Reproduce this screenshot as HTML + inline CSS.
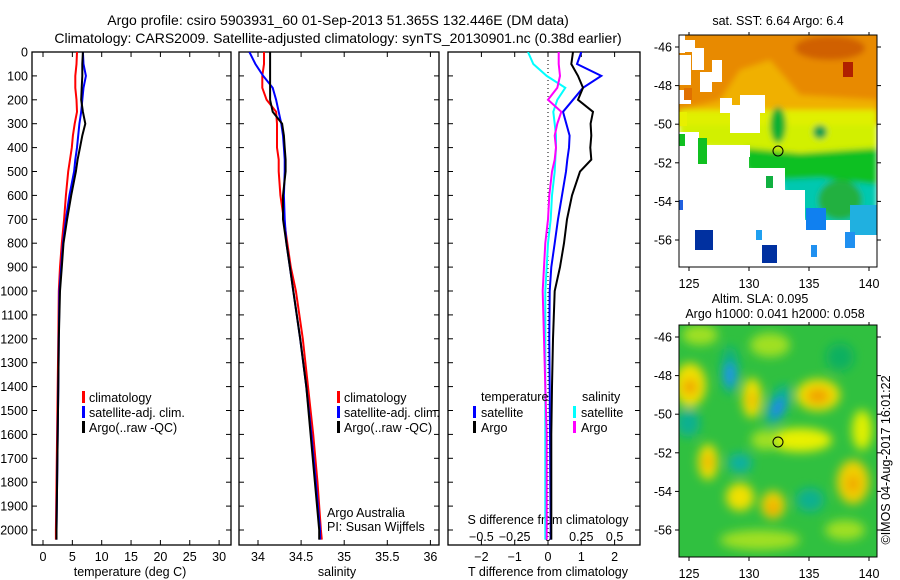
<!DOCTYPE html>
<html><head><meta charset="utf-8"><style>
body{margin:0;background:#fff;}
svg{display:block;font-family:"Liberation Sans",sans-serif;}
text{font-size:12.5px;fill:#000;}
</style></head><body>
<svg id="fig" width="900" height="580" viewBox="0 0 900 580">
<defs>
<clipPath id="c1"><rect x="32" y="52" width="199" height="493"/></clipPath>
<clipPath id="c2"><rect x="239" y="52" width="200" height="493"/></clipPath>
<clipPath id="c3"><rect x="448" y="52" width="192" height="493"/></clipPath>
<clipPath id="cm1"><rect x="679" y="35" width="198" height="232"/></clipPath>
<clipPath id="cm2"><rect x="679" y="325" width="198" height="232"/></clipPath>
<filter id="bl" x="-50%" y="-50%" width="200%" height="200%"><feGaussianBlur stdDeviation="5"/></filter>
<filter id="bl2" x="-50%" y="-50%" width="200%" height="200%"><feGaussianBlur stdDeviation="3"/></filter>
</defs>
<text x="338" y="25" text-anchor="middle" style="font-size:14px">Argo profile: csiro 5903931_60 01-Sep-2013 51.365S 132.446E (DM data)</text>
<text x="338" y="43" text-anchor="middle" style="font-size:14px">Climatology: CARS2009. Satellite-adjusted climatology: synTS_20130901.nc (0.38d earlier)</text>

<g id="p1"></g>
<g id="p2"></g>
<g id="p3"></g>

<!-- SST map -->
<g>
<g clip-path="url(#cm1)">
<rect x="679" y="35" width="198" height="232" fill="#fff"/>
<g filter="url(#bl2)">
<rect x="670" y="25" width="220" height="100" fill="#e88a00"/>
<polygon points="740,70 770,60 800,95 877,100 877,130 679,130 679,110 720,100" fill="#f0b000"/>
<polygon points="679,110 877,110 877,150 800,158 760,150 679,145" fill="#e0f000"/>
<polygon points="679,125 877,125 877,150 679,150" fill="#c8f000" opacity="0.6"/>
<polygon points="745,148 800,153 877,148 877,190 820,182 780,182 745,170" fill="#10c020"/>
<polygon points="780,180 820,178 877,185 877,240 830,232 800,220 785,200" fill="#00c8b0"/>
<ellipse cx="840" cy="200" rx="22" ry="20" fill="#20b040"/>
<ellipse cx="778" cy="125" rx="8" ry="18" fill="#10b030"/>
<ellipse cx="820" cy="132" rx="7" ry="7" fill="#10a050"/>
<ellipse cx="830" cy="48" rx="35" ry="12" fill="#d06000"/>
</g>
<rect x="843" y="62" width="10" height="15" fill="#b02000"/>
<!-- white gaps -->
<rect x="679" y="35" width="6" height="18" fill="#fff"/>
<rect x="685" y="40" width="10" height="12" fill="#fff"/>
<rect x="692" y="48" width="12" height="22" fill="#fff"/>
<rect x="679" y="55" width="12" height="30" fill="#fff"/>
<rect x="679" y="90" width="12" height="14" fill="#fff"/>
<rect x="700" y="72" width="12" height="20" fill="#fff"/>
<rect x="712" y="60" width="10" height="22" fill="#fff"/>
<rect x="720" y="98" width="12" height="15" fill="#fff"/>
<rect x="730" y="105" width="30" height="28" fill="#fff"/>
<rect x="740" y="95" width="25" height="18" fill="#fff"/>
<rect x="679" y="155" width="70" height="112" fill="#fff"/>
<rect x="679" y="132" width="20" height="23" fill="#fff"/>
<rect x="705" y="145" width="45" height="12" fill="#fff"/>
<rect x="749" y="168" width="36" height="99" fill="#fff"/>
<rect x="785" y="190" width="20" height="77" fill="#fff"/>
<rect x="805" y="220" width="72" height="47" fill="#fff"/>
<rect x="679" y="112" width="8" height="14" fill="#e8f000"/>
<rect x="698" y="138" width="9" height="26" fill="#10c020"/>
<rect x="679" y="134" width="6" height="12" fill="#10c020"/>
<rect x="766" y="176" width="7" height="12" fill="#10b040"/>
<rect x="684" y="88" width="8" height="12" fill="#e07000"/>
<rect x="695" y="230" width="18" height="20" fill="#0030a0"/>
<rect x="762" y="245" width="15" height="18" fill="#0030a0"/>
<rect x="756" y="230" width="6" height="10" fill="#20a0f0"/>
<rect x="811" y="245" width="6" height="12" fill="#2090f0"/>
<rect x="806" y="208" width="20" height="22" fill="#1080f0"/>
<rect x="850" y="205" width="27" height="30" fill="#20b0e0"/>
<rect x="845" y="232" width="10" height="16" fill="#2090f0"/>
<rect x="679" y="200" width="4" height="10" fill="#2060e0"/>
</g>
<rect x="679" y="35" width="198" height="232" fill="none" stroke="#000"/>
<circle cx="778" cy="151" r="5" fill="none" stroke="#000"/>
</g>
<text x="778" y="25" text-anchor="middle">sat. SST: 6.64 Argo: 6.4</text>

<!-- SLA map -->
<g>
<g clip-path="url(#cm2)">
<rect x="679" y="325" width="198" height="232" fill="#30c040"/>
<g filter="url(#bl)">
<ellipse cx="700" cy="335" rx="18" ry="10" fill="#a0e020"/>
<ellipse cx="770" cy="345" rx="20" ry="12" fill="#a0e020"/>
<ellipse cx="690" cy="385" rx="16" ry="22" fill="#f0e000"/>
<ellipse cx="690" cy="387" rx="7" ry="8" fill="#f0a000"/>
<ellipse cx="752" cy="398" rx="10" ry="20" fill="#f0e000"/>
<ellipse cx="752" cy="400" rx="4" ry="8" fill="#f0b000"/>
<ellipse cx="818" cy="395" rx="22" ry="16" fill="#f0e000"/>
<ellipse cx="818" cy="396" rx="12" ry="8" fill="#f0a000"/>
<ellipse cx="800" cy="440" rx="32" ry="12" fill="#e8f000"/>
<ellipse cx="765" cy="440" rx="14" ry="10" fill="#a0e020"/>
<ellipse cx="708" cy="462" rx="10" ry="18" fill="#f0e000"/>
<ellipse cx="708" cy="462" rx="5" ry="8" fill="#f0b000"/>
<ellipse cx="740" cy="497" rx="14" ry="14" fill="#f0e000"/>
<ellipse cx="773" cy="505" rx="12" ry="14" fill="#f0d000"/>
<ellipse cx="773" cy="508" rx="5" ry="7" fill="#f0a000"/>
<ellipse cx="853" cy="482" rx="16" ry="22" fill="#f0d000"/>
<ellipse cx="853" cy="484" rx="6" ry="8" fill="#f0a000"/>
<ellipse cx="730" cy="370" rx="9" ry="24" fill="#10b080"/>
<ellipse cx="730" cy="375" rx="5" ry="12" fill="#2090f0"/>
<ellipse cx="778" cy="405" rx="10" ry="22" fill="#10b090" transform="rotate(25 778 405)"/>
<ellipse cx="778" cy="408" rx="5" ry="11" fill="#2080f0" transform="rotate(25 778 408)"/>
<ellipse cx="740" cy="463" rx="12" ry="10" fill="#10b0a0"/>
<ellipse cx="688" cy="423" rx="12" ry="14" fill="#10b090"/>
<ellipse cx="810" cy="500" rx="14" ry="12" fill="#10b090"/>
<ellipse cx="840" cy="357" rx="14" ry="14" fill="#10b060"/>
<ellipse cx="760" cy="540" rx="40" ry="10" fill="#a0e020"/>
<ellipse cx="862" cy="430" rx="10" ry="20" fill="#e0f000"/>
<ellipse cx="845" cy="530" rx="20" ry="10" fill="#a0e020"/>
</g>
</g>
<rect x="679" y="325" width="198" height="232" fill="none" stroke="#000"/>
<circle cx="778" cy="442" r="5" fill="none" stroke="#000"/>
</g>
<text x="760" y="303" text-anchor="middle">Altim. SLA: 0.095</text>
<text x="775" y="318" text-anchor="middle">Argo h1000: 0.041 h2000: 0.058</text>
<text transform="translate(890 460) rotate(-90)" text-anchor="middle">©IMOS 04-Aug-2017 16:01:22</text>
<g id="maxes"></g>
</svg>
<script>
// ---- data ----
const depths = [0,50,100,150,200,250,300,350,400,450,500,600,700,800,900,1000,1200,1400,1600,1800,2000,2040];
const tempClim = [5.8,5.7,5.5,5.5,5.7,5.8,5.4,5.1,4.9,4.6,4.3,3.9,3.6,3.2,2.9,2.7,2.6,2.5,2.4,2.3,2.2,2.2];
const tempSat  = [6.8,6.9,7.3,6.9,6.7,6.5,6.2,6.0,5.8,5.5,5.3,4.5,3.9,3.4,3.1,2.8,2.7,2.6,2.5,2.4,2.3,2.3];
const tempArgo = [6.8,6.7,6.7,6.6,6.5,6.8,7.2,6.7,6.3,5.9,5.6,4.8,4.1,3.5,3.2,2.9,2.7,2.6,2.5,2.4,2.3,2.3];
const salClim = [34.07,34.07,34.05,34.05,34.10,34.21,34.22,34.22,34.22,34.24,34.24,34.26,34.30,34.34,34.38,34.44,34.52,34.58,34.64,34.69,34.73,34.74];
const salSat  = [33.90,33.97,34.06,34.17,34.21,34.24,34.27,34.29,34.30,34.31,34.31,34.30,34.31,34.33,34.37,34.41,34.49,34.56,34.62,34.67,34.72,34.72];
const salArgo = [34.14,34.14,34.14,34.14,34.14,34.17,34.28,34.30,34.31,34.32,34.32,34.29,34.29,34.33,34.37,34.41,34.49,34.56,34.61,34.66,34.71,34.71];
const dTSat  = [1.0,0.87,1.6,1.05,0.75,0.45,0.55,0.65,0.63,0.58,0.54,0.42,0.3,0.2,0.1,0.05,0.04,0.05,0.06,0.07,0.08,0.08];
const dTArgo = [0.75,0.7,0.9,1.05,0.9,1.35,1.28,1.3,1.27,1.3,0.96,0.72,0.57,0.48,0.36,0.2,0.15,0.12,0.1,0.1,0.1,0.1];
const dSSat  = [-0.15,-0.11,-0.01,0.13,0.07,0.04,0.05,0.06,0.06,0.055,0.05,0.03,0.02,0,-0.01,-0.02,-0.02,-0.02,-0.02,-0.02,-0.02,-0.02];
const dSArgo = [0.08,0.08,0.09,0.07,0.0,0.1,0.07,0.05,0.06,0.05,0.03,0.01,0.0,-0.02,-0.03,-0.04,-0.03,-0.02,-0.01,-0.01,-0.01,-0.01];
const depthTicks = [0,100,200,300,400,500,600,700,800,900,1000,1100,1200,1300,1400,1500,1600,1700,1800,1900,2000];
const tempTicks = [0,5,10,15,20,25,30];
const salTicks = [34,34.5,35,35.5,36];
const dTTicks = [-2,-1,0,1,2];
const dSTicks = [-0.5,-0.25,0,0.25,0.5];
const lonTicks = [125,130,135,140];
const latTicks = [-46,-48,-50,-52,-54,-56];

const NS='http://www.w3.org/2000/svg';
function mk(tag, attrs, parent, txt){const e=document.createElementNS(NS,tag);for(const k in attrs)e.setAttribute(k,attrs[k]);if(txt!==undefined)e.textContent=txt;parent.appendChild(e);return e;}
const yD = d => 52 + d*0.239;
const xT = v => 43 + v*5.87;
const xS = v => 258 + (v-34)*86.2;
const xDT = v => 548 + v*33.3;
const xDS = v => 548 + v*133.2;

function panel(g, x0, x1){
  const r=mk('rect',{x:x0,y:52,width:x1-x0,height:493,fill:'none',stroke:'#000','stroke-width':1.3},g);
  
  
  depthTicks.forEach(d=>{
    mk('line',{x1:x0,x2:x0+5,y1:yD(d),y2:yD(d),stroke:'#000'},g);
    mk('line',{x1:x1,x2:x1-5,y1:yD(d),y2:yD(d),stroke:'#000'},g);
  });
}
function xticks(g, ticks, fx, labY, top, bot){
  ticks.forEach(t=>{
    const x=fx(t);
    if(top) mk('line',{x1:x,x2:x,y1:52,y2:57,stroke:'#000'},g);
    if(bot) mk('line',{x1:x,x2:x,y1:545,y2:540,stroke:'#000'},g);
    const l=mk('text',{x:x,y:labY,'text-anchor':'middle'},g,String(t).replace('-','\u2212'));
    
    
  });
}
function series(g, xs, fx, color, w, clip, name){
  let d='';
  depths.forEach((dep,i)=>{d+=(i?'L':'M')+fx(xs[i]).toFixed(1)+' '+yD(dep).toFixed(1);});
  const p=mk('path',{d:d,fill:'none',stroke:color,'stroke-width':w,'clip-path':'url(#'+clip+')'},g);
  
  
}
function legend(g, x, items){
  items.forEach((it,i)=>{
    const y=397+i*15;
    mk('rect',{x:x,y:y-6,width:3,height:12,fill:it[1]},g);
    const t=mk('text',{x:x+7,y:y+5},g,it[0]);
    
    
  });
}
// panel 1
const p1=document.getElementById('p1');
panel(p1,32,231);
depthTicks.forEach(d=>{const t=mk('text',{x:28,y:yD(d)+4.5,'text-anchor':'end'},p1,String(d));
  
  });
xticks(p1,tempTicks,xT,561,true,true);
const t1=mk('text',{x:130,y:576,'text-anchor':'middle'},p1,'temperature (deg C)');


series(p1,tempClim,xT,'#f00',2,'c1','temp-climatology-line');
series(p1,tempSat,xT,'#00f',2,'c1','temp-satellite-line');
series(p1,tempArgo,xT,'#000',2,'c1','temp-argo-line');
legend(p1,82,[['climatology','#f00'],['satellite-adj. clim.','#00f'],['Argo(..raw -QC)','#000']]);
// panel 2
const p2=document.getElementById('p2');
panel(p2,239,439);
xticks(p2,salTicks,xS,561,true,true);
const t2=mk('text',{x:337,y:576,'text-anchor':'middle'},p2,'salinity');


series(p2,salClim,xS,'#f00',2,'c2','sal-climatology-line');
series(p2,salSat,xS,'#00f',2,'c2','sal-satellite-line');
series(p2,salArgo,xS,'#000',2,'c2','sal-argo-line');
legend(p2,337,[['climatology','#f00'],['satellite-adj. clim.','#00f'],['Argo(..raw -QC)','#000']]);
const a1=mk('text',{x:327,y:517},p2,'Argo Australia');


const a2=mk('text',{x:327,y:531},p2,'PI: Susan Wijffels');


// panel 3
const p3=document.getElementById('p3');
panel(p3,448,640);
mk('line',{x1:548,x2:548,y1:52,y2:545,stroke:'#000','stroke-dasharray':'1 3'},p3);
xticks(p3,dTTicks,xDT,561,true,true);
xticks(p3,dSTicks,xDS,541,false,false);
const t3=mk('text',{x:548,y:576,'text-anchor':'middle'},p3,'T difference from climatology');


const t4=mk('text',{x:548,y:524,'text-anchor':'middle'},p3,'S difference from climatology');


series(p3,dTSat,xDT,'#00f',2,'c3','t-diff-satellite-line');
series(p3,dTArgo,xDT,'#000',2,'c3','t-diff-argo-line');
series(p3,dSSat,xDS,'#0ff',2,'c3','s-diff-satellite-line');
series(p3,dSArgo,xDS,'#f0f',2,'c3','s-diff-argo-line');
const lt=mk('text',{x:481,y:401},p3,'temperature');


const ls=mk('text',{x:582,y:401},p3,'salinity');


[['satellite','#00f',473],['Argo','#000',473],['satellite','#0ff',573],['Argo','#f0f',573]].forEach((it,i)=>{
  const y=412+(i%2)*15;
  mk('rect',{x:it[2],y:y-6,width:3,height:12,fill:it[1]},p3);
  const t=mk('text',{x:it[2]+8,y:y+5},p3,it[0]);
  
  
});
// map axes
const ma=document.getElementById('maxes');
const xLon = v => 689 + (v-125)*12;
const yLat = (v,top) => top + 12 + (-46 - v)*19.3;
[35,325].forEach(top=>{
  lonTicks.forEach(l=>{
    mk('line',{x1:xLon(l),x2:xLon(l),y1:top-3,y2:top+0,stroke:'#000'},ma);
    mk('line',{x1:xLon(l),x2:xLon(l),y1:top+232,y2:top+236,stroke:'#000'},ma);
    const t=mk('text',{x:xLon(l),y:top+253,'text-anchor':'middle'},ma,String(l));
    
    
  });
  latTicks.forEach(l=>{
    const y=yLat(l,top);
    mk('line',{x1:675,x2:679,y1:y,y2:y,stroke:'#000'},ma);
    mk('line',{x1:877,x2:881,y1:y,y2:y,stroke:'#000'},ma);
    const t=mk('text',{x:672,y:y+4.5,'text-anchor':'end'},ma,String(l));
    
    
  });
});
</script>
</body></html>
